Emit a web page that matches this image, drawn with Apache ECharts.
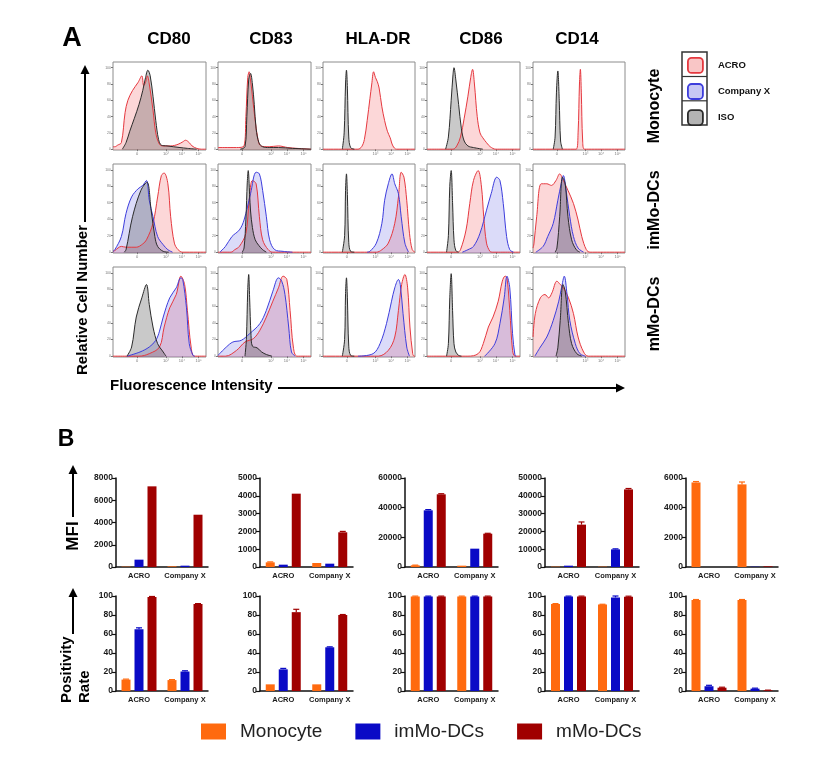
<!DOCTYPE html>
<html>
<head>
<meta charset="utf-8">
<script src="https://cdn.jsdelivr.net/npm/echarts@6/dist/echarts.min.js"></script>
<style>
  html, body { margin: 0; background: #fff; }
  #chart { width: 820px; height: 761px; }
</style>
</head>
<body>
<div id="chart"></div>
<script>
const markers = ['CD80', 'CD83', 'HLA-DR', 'CD86', 'CD14'];
const cellTypes = ['Monocyte', 'imMo-DCs', 'mMo-DCs'];
const reagents = ['ACRO', 'Company X', 'ISO'];
const groups = ['ACRO', 'Company X'];

// histogram outlines: [position across panel (0-100), relative count]
const monoACRO = [
  [[0,3],[2,3],[5,5],[9,8],[13,45],[16,60],[21,72],[27,82],[31,90],[33,78],[35,82],[37,90],[39,80],[43,48],[46,20],[50,6],[54,4],[62,4],[70,6],[75,9],[78,11],[82,8],[85,4],[90,1],[95,0],[100,0]],
  [[0,2],[20,2],[28,4],[30,40],[32,88],[33.5,95],[35,85],[37,65],[40,35],[43,12],[46,4],[55,3],[65,4],[75,2],[85,1],[100,0]],
  [[0,0],[38,0],[42,3],[45,12],[48,35],[51,62],[53,80],[55,95],[57,88],[59,83],[61,75],[64,52],[67,35],[70,22],[73,14],[76,4],[80,0],[100,0]],
  [[0,0],[28,0],[32,4],[36,15],[40,38],[44,65],[47,88],[49,98],[51,80],[54,40],[57,20],[60,14],[64,8],[68,3],[74,0],[100,0]],
  [[0,0],[47,0],[49,20],[50.5,80],[51.5,98],[52.5,70],[54,10],[56,0],[100,0]]
];
const monoISO = [
  [[10,0],[14,8],[18,22],[23,38],[28,55],[32,72],[35,88],[37.5,97],[40,90],[43,65],[46,35],[49,12],[52,5],[58,4],[65,3],[72,2],[80,1],[90,0]],
  [[24,0],[29,3],[31,40],[33,85],[35,93],[37,80],[39,55],[41,25],[44,8],[48,3],[55,2],[65,2],[80,1],[100,0]],
  [[21,0],[23,20],[24.5,80],[25.5,97],[26.5,75],[28,15],[30,2],[34,0]],
  [[20,0],[23,15],[26,60],[28,92],[29,100],[31,85],[34,55],[37,25],[40,10],[44,4],[50,2],[60,0]],
  [[22,0],[24,15],[25.5,70],[27,96],[28.5,60],[30,10],[32,0]]
];
const imACRO = [
  [[0,1],[2,2],[9,7],[14,6],[25,6],[32,10],[36,15],[43,35],[48,67],[52,93],[55,96],[59,83],[62,43],[66,11],[70,3],[75,0],[100,0]],
  [[0,0],[14,0],[18,3],[23,7],[30,23],[33.5,63],[37,87],[41,83],[44.5,43],[48,15],[54,3],[59,0],[100,0]],
  [[0,0],[58,0],[64,3],[71,11],[78,35],[82,67],[85,97],[88,91],[91,63],[94,23],[97,3],[100,0]],
  [[0,0],[33,0],[36,3],[42,27],[46,59],[50,87],[55,99],[58.6,79],[61,43],[64,11],[67.6,1],[70,0],[100,0]],
  [[0,5],[1,10],[4,43],[9,83],[15,83],[20,81],[25,87],[29,95],[33,87],[38,75],[44,59],[49,39],[53,19],[58,3],[62,0],[100,0]]
];
const imCompanyX = [
  [[0,1],[2,3],[9,19],[14,47],[20,67],[27,77],[32,81],[36,87],[39,63],[43,43],[48,19],[54,9],[59,3],[64,0]],
  [[2,0],[8,7],[15,19],[23,27],[28,39],[35,71],[41,97],[44.5,95],[48,75],[52,43],[55.5,15],[61,3],[70,1],[80,0]],
  [[48,0],[51,1],[58,11],[64,35],[67,63],[71,83],[75,95],[78,83],[82,71],[85,43],[89,11],[93,0]],
  [[38,0],[44,3],[50,7],[57,23],[64,51],[69,71],[75,91],[78.4,87],[82,59],[85.6,19],[89,3],[93,0]],
  [[3,0],[11,7],[16,19],[22,35],[27,63],[31,85],[33,93],[36,75],[40,43],[44,19],[49,5],[55,0]]
];
const imISO = [
  [[12,0],[14,3],[21,43],[30,75],[36.5,85],[41,51],[45,19],[48,7],[54,1],[60,0]],
  [[26,0],[28,5],[30,40],[31.5,85],[32.5,99],[34,70],[35,50],[37,30],[40,15],[44,8],[48,3],[52,0]],
  [[21,0],[23.5,20],[24.5,75],[25.5,95],[26.5,70],[28,12],[30,1],[34,0]],
  [[21,0],[23,20],[24.5,80],[26,99],[27.5,60],[29,15],[31,2],[34,0]],
  [[24,0],[26,5],[29,43],[32,91],[35,83],[38,43],[42,15],[47,3],[51,0]]
];
const mACRO = [
  [[0,0],[28,0],[39,3],[50,11],[55,35],[61,58],[68,74],[73,96],[77,86],[80,55],[84,11],[87.5,0],[100,0]],
  [[0,0],[8,0],[20,7],[29,17],[38,21],[45,31],[52,47],[59,66],[65,82],[70,96],[74,92],[77.5,55],[81,11],[85,0],[100,0]],
  [[0,0],[60,0],[71,7],[78,23],[82,55],[85.5,86],[89,98],[92,82],[94.5,35],[97.5,3],[99,0],[100,0]],
  [[0,0],[44,0],[55,3],[60.5,15],[66,35],[71,47],[76.6,66],[81,90],[84,96],[86,94],[89,55],[92,7],[94.6,0],[100,0]],
  [[0,23],[2.5,51],[8,70],[13,74],[17,70],[20.6,76],[26,90],[29.6,86],[33,82],[38.6,70],[44,51],[49,23],[55,5],[60,0],[100,0]]
];
const mCompanyX = [
  [[15,0],[29,5],[39,11],[46,19],[50,30],[54,47],[61,70],[68,82],[73,94],[75,92],[79,58],[82,15],[86,1],[88,0]],
  [[0,1],[9,11],[16,17],[25,19],[34,27],[45,39],[52,55],[59,78],[65,94],[68.5,90],[72,74],[76,35],[79,5],[83,0]],
  [[38,0],[54.5,3],[62,15],[69,39],[74.5,66],[78,82],[82,92],[84,86],[87,51],[91,11],[94,0]],
  [[62,0],[73,15],[78.4,39],[83,70],[86,96],[89,82],[92,27],[94.6,1],[96,0]],
  [[2,0],[8,11],[15,23],[22,43],[28,66],[31,82],[34,96],[37,74],[40,43],[46,15],[51,3],[57,0]]
];
const mISO = [
  [[15,0],[20,11],[25,47],[31,70],[36,86],[39,62],[43,35],[48,15],[54,5],[57,0]],
  [[29,0],[30.5,20],[32,80],[33,98],[34,70],[35.5,25],[37,12],[42,10],[47,5],[52,2],[58,0]],
  [[21,0],[23.5,20],[24.5,75],[25.5,94],[26.5,70],[28,12],[30,1],[34,0]],
  [[21,0],[23,15],[24.5,70],[26,99],[27.5,55],[29,15],[31,5],[34,1],[37,0]],
  [[25,0],[27,10],[29.6,43],[32.5,86],[35,78],[38.6,39],[42,15],[47.6,3],[53,0]]
];
const histYTicks = [0, 20, 40, 60, 80, 100];
const histXTicks = [26, 57, 74, 92];
const histXTickLabels = ['0', '10³', '10⁴', '10⁵'];

// panel B, per marker: [ACRO, Company X]
const mfiMonocyte = [[30, 60], [262, 225], [1120, 900], [190, 190], [5700, 5570]];
const mfiImMo = [[660, 120], [131, 187], [38200, 12360], [750, 9900], [0, 20]];
const mfiMMo = [[7250, 4700], [4120, 1950], [49000, 22470], [23800, 43600], [0, 45]];
const mfiErrMonocyte = [[0, 0], [25, 0], [150, 0], [0, 0], [60, 160]];
const mfiErrImMo = [[0, 0], [0, 0], [500, 0], [0, 300], [0, 0]];
const mfiErrMMo = [[0, 0], [0, 50], [400, 250], [1500, 500], [0, 0]];
const mfiMax = [8000, 5000, 60000, 50000, 6000];
const mfiStep = [2000, 1000, 20000, 10000, 2000];

const posMonocyte = [[12, 11.5], [7, 7], [99.6, 99.6], [91.5, 91], [95.8, 95.8]];
const posImMo = [[65, 20.5], [22.8, 46], [99.6, 99.6], [99.6, 98.5], [5, 2.5]];
const posMMo = [[99, 91.5], [83, 80], [99.6, 99.6], [99.6, 99.3], [3.5, 0.7]];
const posErrMonocyte = [[0.5, 0.5], [0, 0], [0.3, 0.3], [0.5, 0.3], [0.5, 0.5]];
const posErrImMo = [[1.5, 0.8], [1, 0.5], [0.3, 0.3], [0.3, 1.5], [1, 0.5]];
const posErrMMo = [[0.5, 0.5], [3, 0.5], [0.3, 0.3], [0.3, 0.5], [0.5, 0.2]];

const reagentColor = {
  'ACRO': { line: '#e5383f', fill: 'rgba(242,105,110,0.38)', box: 'rgba(245,160,160,0.6)' },
  'Company X': { line: '#3d3ddc', fill: 'rgba(95,95,230,0.32)', box: 'rgba(175,175,240,0.7)' },
  'ISO': { line: '#2b2b2b', fill: 'rgba(85,85,85,0.45)', box: '#b3b3b3' }
};
const cellColor = { 'Monocyte': '#ff6a0f', 'imMo-DCs': '#0a0ac6', 'mMo-DCs': '#a00000' };

const chart = echarts.init(document.getElementById('chart'));

const grid = [], xAxis = [], yAxis = [], series = [];
const FONT = 'Liberation Sans, Arial, sans-serif';

// ---- panel A layout
const histLeft = [113, 218, 323, 427, 533];
const histWidth = [93, 93, 92, 93, 92];
const histTop = [62, 164, 267];
const histHeight = [88, 89, 90];
const histRows = [
  { 'ACRO': monoACRO, 'Company X': null, 'ISO': monoISO },
  { 'ACRO': imACRO, 'Company X': imCompanyX, 'ISO': imISO },
  { 'ACRO': mACRO, 'Company X': mCompanyX, 'ISO': mISO }
];

histRows.forEach((row, r) => {
  markers.forEach((m, c) => {
    const gi = grid.length;
    grid.push({
      left: histLeft[c], top: histTop[r], width: histWidth[c], height: histHeight[r],
      show: true, borderColor: '#8c8c8c', borderWidth: 1, backgroundColor: '#fff'
    });
    xAxis.push({
      gridIndex: gi, type: 'value', min: 0, max: 100,
      axisLine: { show: false }, splitLine: { show: false },
      axisTick: { show: true, customValues: histXTicks, length: 2, lineStyle: { color: '#777' } },
      axisLabel: {
        customValues: histXTicks, fontSize: 4, margin: 2, color: '#777',
        formatter: v => histXTickLabels[histXTicks.indexOf(v)] || ''
      }
    });
    yAxis.push({
      gridIndex: gi, type: 'value', min: -1, max: 107,
      axisLine: { show: false }, splitLine: { show: false },
      axisTick: { show: true, customValues: histYTicks, length: 2, lineStyle: { color: '#777' } },
      axisLabel: { customValues: histYTicks, fontSize: 3.5, margin: 2, color: '#777' }
    });
    reagents.forEach(name => {
      const curves = row[name];
      if (!curves) return;
      const col = reagentColor[name];
      series.push({
        name, type: 'line', xAxisIndex: gi, yAxisIndex: gi,
        data: curves[c], smooth: 0.35, showSymbol: false, silent: true,
        lineStyle: { color: col.line, width: 1 },
        itemStyle: { color: col.line },
        areaStyle: { color: col.fill, origin: 'start' }
      });
    });
  });
});

// ---- panel B layout
const barLeft = [116, 260, 405, 545, 686];
const barWidthPx = [92, 93, 93, 94, 92];
const barTop = [478, 596];
const barHeight = [89, 95];
const BAR_W = 9, BAR_GAP = 4;
const barRows = [
  { values: [mfiMonocyte, mfiImMo, mfiMMo], errors: [mfiErrMonocyte, mfiErrImMo, mfiErrMMo], max: mfiMax, step: mfiStep },
  { values: [posMonocyte, posImMo, posMMo], errors: [posErrMonocyte, posErrImMo, posErrMMo], max: [100, 100, 100, 100, 100], step: [20, 20, 20, 20, 20] }
];

barRows.forEach((row, r) => {
  markers.forEach((m, c) => {
    const gi = grid.length;
    grid.push({ left: barLeft[c], top: barTop[r], width: barWidthPx[c], height: barHeight[r] });
    xAxis.push({
      gridIndex: gi, type: 'category', data: groups,
      axisLine: { lineStyle: { color: '#111', width: 1.5 } },
      axisTick: { alignWithLabel: true, length: 4, lineStyle: { color: '#111', width: 1.2 } },
      axisLabel: { interval: 0, fontSize: 7.5, fontWeight: 'bold', color: '#1a1a1a', margin: 5, fontFamily: FONT }
    });
    yAxis.push({
      gridIndex: gi, type: 'value', min: 0, max: row.max[c], interval: row.step[c],
      splitLine: { show: false },
      axisLine: { show: true, lineStyle: { color: '#111', width: 1.5 } },
      axisTick: { show: true, length: 4, lineStyle: { color: '#111', width: 1.2 } },
      axisLabel: { fontSize: 8.5, fontWeight: 'bold', color: '#1a1a1a', margin: 3, fontFamily: FONT, formatter: v => String(v) }
    });
    cellTypes.forEach((ct, k) => {
      series.push({
        name: ct, type: 'bar', xAxisIndex: gi, yAxisIndex: gi,
        data: row.values[k][c], barWidth: BAR_W, barGap: (BAR_GAP / BAR_W * 100) + '%',
        itemStyle: { color: cellColor[ct] }, silent: true
      });
    });
    cellTypes.forEach((ct, k) => {
      const offset = (k - 1) * (BAR_W + BAR_GAP);
      series.push({
        name: ct, type: 'custom', xAxisIndex: gi, yAxisIndex: gi, silent: true, z: 3,
        data: row.values[k][c].map((v, i) => [i, v, row.errors[k][c][i]]),
        renderItem: (params, api) => {
          const err = api.value(2);
          if (!err) return null;
          const base = api.coord([api.value(0), api.value(1)]);
          const top = api.coord([api.value(0), api.value(1) + err]);
          const x = base[0] + offset;
          const st = { stroke: cellColor[ct], lineWidth: 1.2 };
          return {
            type: 'group', children: [
              { type: 'line', shape: { x1: x, y1: base[1], x2: x, y2: top[1] }, style: st },
              { type: 'line', shape: { x1: x - 3, y1: top[1], x2: x + 3, y2: top[1] }, style: st }
            ]
          };
        }
      });
    });
  });
});

// ---- text and arrows
const txt = (text, x, y, font, opts = {}) => ({
  type: 'text', x, y, rotation: opts.rotation || 0, silent: true,
  style: { text, x: 0, y: 0, font, fill: opts.fill || '#000', align: opts.align || 'center', verticalAlign: 'middle' }
});
const arrowUp = (x, y1, y2) => [
  { type: 'line', silent: true, shape: { x1: x, y1: y1, x2: x, y2: y2 + 6 }, style: { stroke: '#000', lineWidth: 2 } },
  { type: 'polygon', silent: true, shape: { points: [[x, y2], [x - 4.5, y2 + 9], [x + 4.5, y2 + 9]] }, style: { fill: '#000' } }
];
const arrowRight = (y, x1, x2) => [
  { type: 'line', silent: true, shape: { x1: x1, y1: y, x2: x2 - 6, y2: y }, style: { stroke: '#000', lineWidth: 2 } },
  { type: 'polygon', silent: true, shape: { points: [[x2, y], [x2 - 9, y - 4.5], [x2 - 9, y + 4.5]] }, style: { fill: '#000' } }
];
const titleX = [169, 271, 378, 481, 577];
const rowLabelY = [106, 210, 314];
const BOLD = 'bold 17px ' + FONT;

const graphic = [
  txt('A', 72, 39, 'bold 27px ' + FONT),
  txt('B', 66, 440, 'bold 23px ' + FONT),
  ...markers.map((m, i) => txt(m, titleX[i], 39, BOLD)),
  ...cellTypes.map((ct, i) => txt(ct, 655, rowLabelY[i], 'bold 16px ' + FONT, { rotation: Math.PI / 2 })),
  txt('Relative Cell Number', 83, 300, 'bold 15px ' + FONT, { rotation: Math.PI / 2 }),
  ...arrowUp(85, 222, 65),
  txt('Fluorescence Intensity', 110, 386, 'bold 15px ' + FONT, { align: 'left' }),
  ...arrowRight(388, 278, 625),
  txt('MFI', 73, 536, 'bold 17px ' + FONT, { rotation: Math.PI / 2 }),
  ...arrowUp(73, 517, 465),
  txt('Positivity', 67, 703, 'bold 15px ' + FONT, { rotation: Math.PI / 2, align: 'left' }),
  txt('Rate', 85, 703, 'bold 15px ' + FONT, { rotation: Math.PI / 2, align: 'left' }),
  ...arrowUp(73, 634, 588),
  { type: 'rect', silent: true, shape: { x: 682, y: 52, width: 25, height: 73 }, style: { fill: 'none', stroke: '#333', lineWidth: 1.5 } },
  { type: 'line', silent: true, shape: { x1: 682, y1: 76.5, x2: 707, y2: 76.5 }, style: { stroke: '#333', lineWidth: 1.2 } },
  { type: 'line', silent: true, shape: { x1: 682, y1: 100.8, x2: 707, y2: 100.8 }, style: { stroke: '#333', lineWidth: 1.2 } }
];

chart.setOption({
  animation: false,
  textStyle: { fontFamily: FONT },
  grid, xAxis, yAxis, series, graphic,
  legend: [
    {
      data: reagents.map(n => ({
        name: n, icon: 'roundRect',
        itemStyle: { color: reagentColor[n].box, borderColor: reagentColor[n].line, borderWidth: 1.8 }
      })),
      orient: 'vertical', left: 687, top: 57, padding: 0, itemWidth: 15, itemHeight: 15, itemGap: 9.3,
      selectedMode: false,
      textStyle: { fontSize: 9.5, fontWeight: 'bold', color: '#111', padding: [0, 0, 0, 10] }
    },
    {
      data: cellTypes.map(n => ({ name: n, icon: 'rect', itemStyle: { color: cellColor[n] } })),
      left: 201, top: 722, padding: 0, itemWidth: 25, itemHeight: 16, itemGap: 33,
      textStyle: { fontSize: 19, color: '#222', padding: [0, 0, 0, 9] }
    }
  ]
});
</script>
</body>
</html>
